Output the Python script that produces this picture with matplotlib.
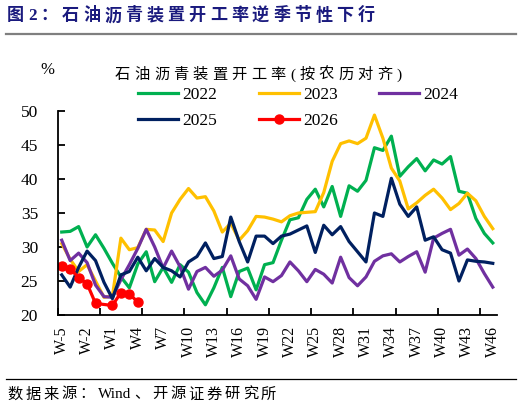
import re
import numpy as np
import matplotlib
matplotlib.use('Agg')
import matplotlib.pyplot as plt
from matplotlib.lines import Line2D

plt.rcParams['font.family'] = ['Liberation Serif', 'Noto Sans CJK SC']

# weeks aligned on the lunar calendar
weeks = ['W-5', 'W-4', 'W-3', 'W-2', 'W-1', 'W0'] + ['W%d' % i for i in range(1, 47)]

y2022 = [32.2, 32.3, 33.0, 30.0, 31.8, 29.8, 27.6, 25.6, 24.0, 27.5,
         29.3, 24.9, 27.0, 24.8, 27.4, 26.3, 23.3, 21.5, 24.0, 27.0,
         22.7, 26.4, 26.9, 23.7, 27.4, 27.7, 31.0, 34.0, 34.3, 37.0,
         38.5, 35.9, 38.9, 34.5, 39.0, 38.2, 39.8, 44.6, 44.2, 46.3,
         40.4, 41.8, 43.0, 41.2, 42.8, 42.2, 43.3, 38.2, 37.9, 34.2,
         32.0, 30.6]
y2023 = [30.5, 28.2, 26.4, 27.4, 25.0, 22.6, 22.8, 31.3, 29.6, 29.9,
         32.6, 32.5, 30.8, 35.0, 37.0, 38.6, 37.2, 37.4, 35.3, 32.2,
         33.5, 31.0, 32.4, 34.5, 34.4, 34.1, 33.7, 34.6, 35.0, 35.1,
         35.2, 38.0, 42.6, 45.2, 45.6, 45.2, 46.0, 49.4, 46.0, 41.6,
         39.7, 35.6, 36.5, 37.6, 38.5, 37.2, 35.5, 36.4, 37.9, 36.8,
         34.5, 32.7]
y2024 = [31.0, 28.0, 29.1, 27.7, 24.4, 22.7, 22.6, 25.2, 27.4, 29.8,
         32.6, 30.0, 26.9, 29.4, 27.1, 23.8, 26.4, 27.0, 25.7, 26.6,
         28.7, 25.3, 24.3, 22.3, 25.6, 24.9, 25.8, 27.8, 26.5, 24.9,
         26.7, 26.0, 24.7, 28.5, 25.5, 24.3, 25.6, 27.9, 28.7, 29.0,
         27.8, 28.6, 29.3, 26.3, 31.3, 32.0, 32.6, 28.8, 29.7, 28.3,
         26.1, 24.1]
y2025 = [25.9, 24.1, 27.0, 29.4, 28.0, 24.8, 22.4, 25.9, 26.4, 28.5,
         26.5, 28.3, 27.0, 26.5, 25.6, 27.8, 28.6, 30.6, 28.3, 28.6,
         34.4, 30.8, 27.8, 31.6, 31.6, 30.5, 31.6, 31.9, 32.5, 33.1,
         29.2, 33.2, 31.8, 33.0, 30.8, 29.3, 27.8, 35.0, 34.5, 40.1,
         36.3, 34.5, 35.9, 31.0, 31.5, 29.6, 29.1, 25.0, 28.1, 27.9,
         27.8, 27.6]
y2026 = [27.25, 26.8, 25.5, 24.6, 21.7, np.nan, 21.4, 23.3, 23.1, 21.9]

W, H = 522, 408
fig = plt.figure(figsize=(W / 100, H / 100), dpi=100)
ax = fig.add_axes([57.5 / W, 1 - 315 / H, (497 - 57.5) / W, (315 - 111) / H])

x = np.arange(len(weeks))
lw = 2.3
ax.plot(x, y2022, color='#00B050', lw=lw, label='2022')
ax.plot(x, y2023, color='#FFC000', lw=lw, label='2023')
ax.plot(x, y2024, color='#7030A0', lw=lw, label='2024')
ax.plot(x, y2025, color='#002060', lw=lw, label='2025')
y26 = np.array(y2026)
ok = ~np.isnan(y26)
ax.plot(x[:len(y26)][ok], y26[ok], color='#FF0000', lw=lw, marker='o', ms=6.5, label='2026')

ax.set_xlim(-0.5, len(weeks) - 0.5)
ax.set_ylim(20, 50)
ax.set_yticks(np.arange(20, 51, 5))

# tick marks every 5 weeks, labels every 3 weeks (excel style)
ax.set_xticks(np.arange(-0.5, len(weeks), 5))
ax.set_xticklabels([])
ax.set_xticks(x[::3], minor=True)
ax.set_xticklabels(weeks[::3], minor=True, rotation=90, fontsize=11.5)
ax.tick_params(axis='x', which='major', direction='in', length=5, width=1.3)
ax.tick_params(axis='x', which='minor', length=0, pad=8)
ax.tick_params(axis='y', direction='in', length=5, width=1.3, pad=14, labelsize=12.5)

for s in ['top', 'right']:
    ax.spines[s].set_visible(False)
for s in ['left', 'bottom']:
    ax.spines[s].set_linewidth(1.3)
    ax.spines[s].set_color('black')

h, l = ax.get_legend_handles_labels()
order = [0, 3, 1, 4, 2]
fig.legend([h[i] for i in order], [l[i] for i in order], ncol=3,
           loc='upper left', bbox_to_anchor=(138 / W, 1 - 87 / H),
           frameon=False, fontsize=12.5, handlelength=2.3, handletextpad=0.25,
           columnspacing=2.39, labelspacing=0.55, borderpad=0, borderaxespad=0)

renderer = fig.canvas.get_renderer()


def spaced_text(x0, yc, s, size, gap, **kw):
    # put the characters one by one with extra spacing (pixels, from top-left)
    xp = x0
    for tok in re.findall(r'[A-Za-z0-9]+|.', s):
        t = fig.text(xp / W, 1 - yc / H, tok, fontsize=size, va='center', ha='left', **kw)
        xp += t.get_window_extent(renderer).width + gap


spaced_text(7, 16, '图2：石油沥青装置开工率逆季节性下行', 12.3, 4,
            color='#1a1a7e', fontweight='bold')
fig.add_artist(Line2D([6 / W, 516 / W], [1 - 33.5 / H] * 2, color='#7f7f7f', lw=1.6))

spaced_text(115, 75, '石油沥青装置开工率(按农历对齐)', 11, 4.2, color='black')
fig.text(47 / W, 1 - 70 / H, '%', fontsize=12, ha='center', va='center')

fig.add_artist(Line2D([6 / W, 516 / W], [1 - 378.5 / H] * 2, color='black', lw=0.9))
spaced_text(7, 394.5, '数据来源：Wind、开源证券研究所', 11, 2.9, color='black')

fig.savefig('out.png', dpi=100, facecolor='white')
